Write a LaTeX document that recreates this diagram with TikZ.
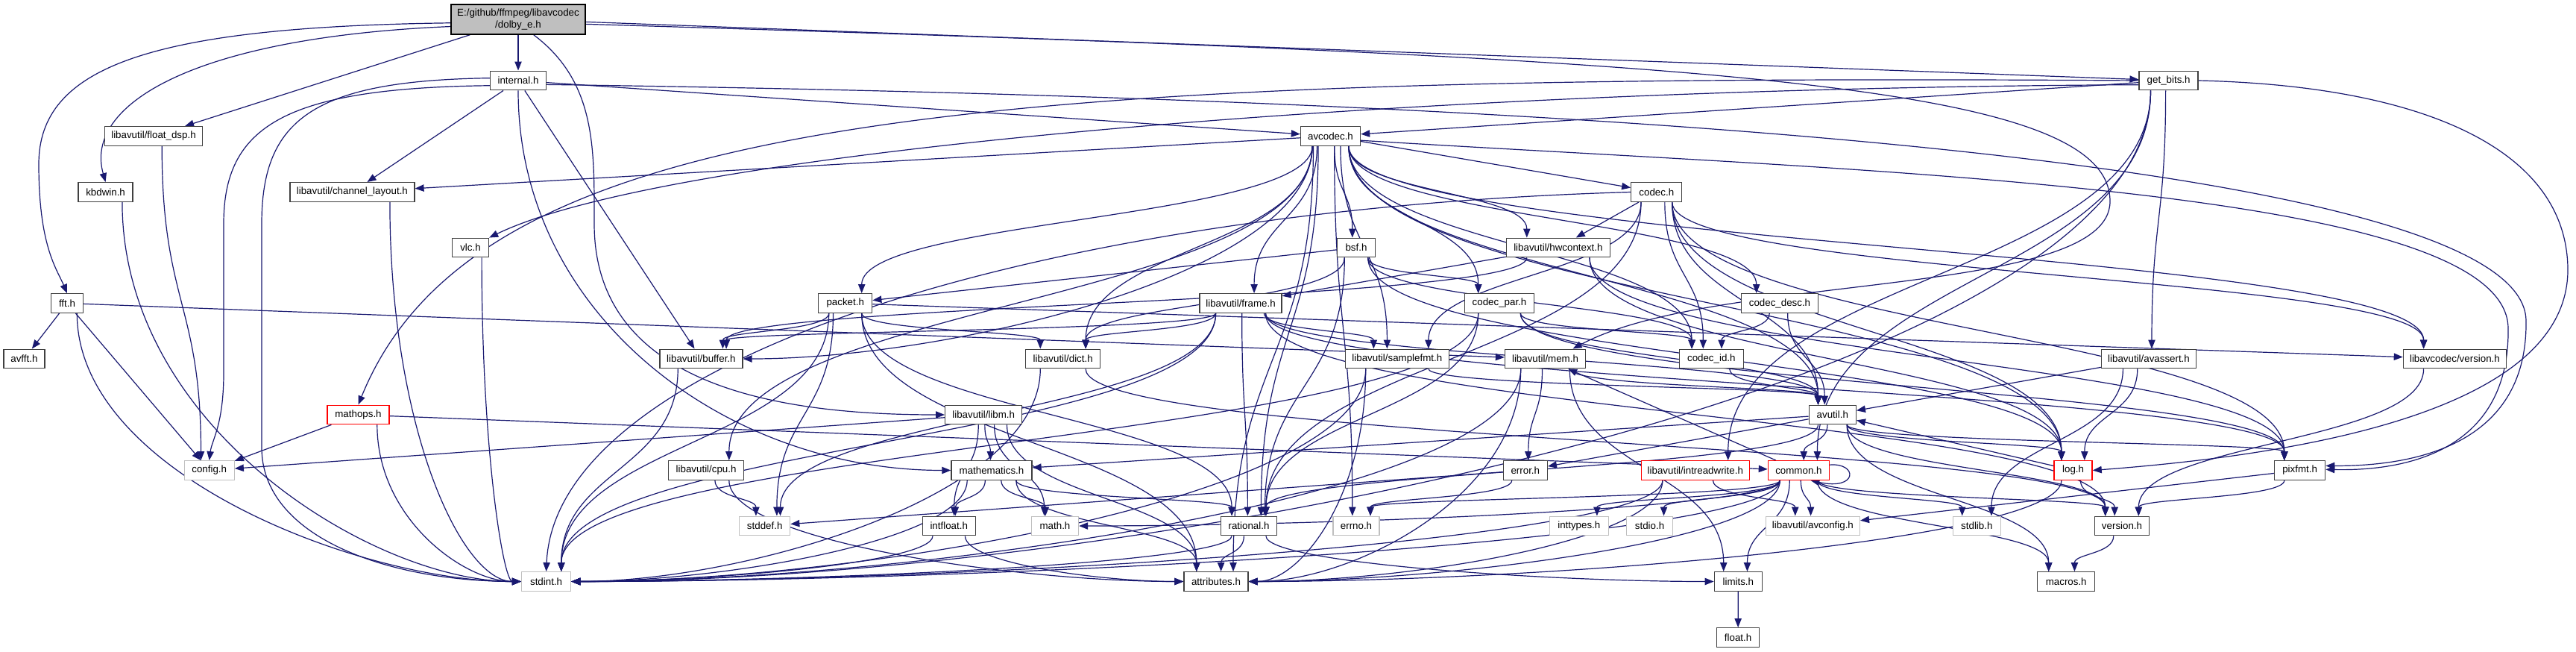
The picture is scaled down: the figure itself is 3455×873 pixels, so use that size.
\documentclass[tikz,border=0pt]{standalone}
\usepackage{fontspec}
\setmainfont{Liberation Sans}
\usetikzlibrary{arrows.meta,calc}
\definecolor{navyline}{RGB}{25,25,112}
\definecolor{gdark}{RGB}{64,64,64}
\definecolor{glight}{RGB}{191,191,191}
\pgfdeclarelayer{bgl}
\pgfdeclarelayer{edl}
\pgfsetlayers{bgl,edl,main}
\tikzset{
  hbase/.style={rectangle, line width=1bp, fill=white, inner sep=0pt, minimum height=19.2bp,
    font=\fontsize{10bp}{11.5bp}\selectfont, text=black},
  nbox/.style={hbase, draw=gdark},
  xbox/.style={hbase, draw=glight},
  rbox/.style={hbase, draw=red},
  rootbox/.style={hbase, draw=black, fill=glight, minimum height=30bp, align=center},
  conn/.style={draw=navyline, line width=0.9bp, -{Triangle[length=9bp,width=7bp]}},
}
% downward S-curve, bottom -> top
\newcommand\eD[3][]{%
  \draw[conn,#1] let \p1=(#2.center), \p2=(#3.center), \p3=(#2.south east), \p4=(#3.north east),
    \n1={\x2-\x1},
    \n2={max(min(0.15*(\n1),0.6*(\x3-\x1)),-0.6*(\x3-\x1))},
    \n3={max(min(-0.15*(\n1),0.6*(\x4-\x2)),-0.6*(\x4-\x2))},
    \n4={0.5*(\y3-\y4)}
  in ({\x1+(\n2)},{\y3}) .. controls +(0pt,{-(\n4)}) and +(0pt,{\n4}) .. ({\x2+(\n3)},{\y4});}
% enter the target from its right side
\newcommand\eR[3][]{%
  \draw[conn,#1] let \p1=(#2.center), \p2=(#3.east), \p3=(#2.south east),
    \n1={\x1-\x2}, \n2={0.6*(\x3-\x1)}, \n4={0.6*(\y3-\y2)}, \n5={0.35*(\n1)}
  in ({\x1-(\n2)},{\y3}) .. controls +(0pt,{-(\n4)}) and +({\n5},0pt) .. (\p2);}
% enter the target from its left side
\newcommand\eL[3][]{%
  \draw[conn,#1] let \p1=(#2.center), \p2=(#3.west), \p3=(#2.south east),
    \n1={\x2-\x1}, \n2={0.6*(\x3-\x1)}, \n4={0.6*(\y3-\y2)}, \n5={0.35*(\n1)}
  in ({\x1+(\n2)},{\y3}) .. controls +(0pt,{-(\n4)}) and +({-(\n5)},0pt) .. (\p2);}
% straight
\newcommand\eS[3][]{\draw[conn,#1] (#2) -- (#3);}
\begin{document}
\begin{tikzpicture}[x=0.75bp,y=-0.75bp]
\begin{pgfonlayer}{bgl}
\fill[white] (0,0) rectangle (3455,873);
\end{pgfonlayer}
\useasboundingbox (0,0) rectangle (3455,873);

\node[rootbox, minimum width=135bp] (dolby) at (695,26) {E:/github/ffmpeg/libavcodec\\/dolby\_e.h};
\node[nbox, minimum width=56.25bp] (internal) at (695,108) {internal.h};
\node[nbox, minimum width=59.25bp] (getbits) at (2908.6,108) {get\_bits.h};
\node[nbox, minimum width=98.25bp] (floatdsp) at (206,182.5) {libavutil/float\_dsp.h};
\node[nbox, minimum width=60bp] (avcodec) at (1784.5,182.5) {avcodec.h};
\node[nbox, minimum width=54.75bp] (kbdwin) at (141.6,257.5) {kbdwin.h};
\node[nbox, minimum width=125.25bp] (chlayout) at (472.4,257.5) {libavutil/channel\_layout.h};
\node[nbox, minimum width=51bp] (codec) at (2221.8,257.5) {codec.h};
\node[nbox, minimum width=36.75bp] (vlc) at (631,332) {vlc.h};
\node[nbox, minimum width=38.25bp] (bsf) at (1819,332) {bsf.h};
\node[nbox, minimum width=104.25bp] (hwctx) at (2089.9,332) {libavutil/hwcontext.h};
\node[nbox, minimum width=32.25bp] (fft) at (90,406.5) {fft.h};
\node[nbox, minimum width=54bp] (packet) at (1133.7,406.5) {packet.h};
\node[nbox, minimum width=82.5bp] (frame) at (1664,406.5) {libavutil/frame.h};
\node[nbox, minimum width=69.75bp] (codecpar) at (2011,406.5) {codec\_par.h};
\node[nbox, minimum width=77.25bp] (codecdesc) at (2387,406.5) {codec\_desc.h};
\node[nbox, minimum width=41.25bp] (avfft) at (32.4,481) {avfft.h};
\node[nbox, minimum width=83.25bp] (buffer) at (940.4,481) {libavutil/buffer.h};
\node[nbox, minimum width=75bp] (dict) at (1425.7,481) {libavutil/dict.h};
\node[nbox, minimum width=104.25bp] (samplefmt) at (1873.8,481) {libavutil/samplefmt.h};
\node[nbox, minimum width=81bp] (mem) at (2072.5,481) {libavutil/mem.h};
\node[nbox, minimum width=64.5bp] (codecid) at (2295.3,481) {codec\_id.h};
\node[nbox, minimum width=95.25bp] (avassert) at (2882,481) {libavutil/avassert.h};
\node[nbox, minimum width=103.5bp] (lcversion) at (3292.4,481) {libavcodec/version.h};
\node[rbox, minimum width=62.25bp] (mathops) at (480.5,556) {mathops.h};
\node[nbox, minimum width=77.25bp] (libm) at (1319.2,556) {libavutil/libm.h};
\node[nbox, minimum width=47.25bp] (avutil) at (2457.8,556) {avutil.h};
\node[xbox, minimum width=50.25bp] (config) at (280.7,630.5) {config.h};
\node[nbox, minimum width=75.75bp] (cpu) at (947.1,630.5) {libavutil/cpu.h};
\node[nbox, minimum width=81bp] (mathem) at (1330,630.5) {mathematics.h};
\node[nbox, minimum width=44.25bp] (errorh) at (2045.8,630.5) {error.h};
\node[rbox, minimum width=108.75bp] (intrw) at (2273.8,630.5) {libavutil/intreadwrite.h};
\node[rbox, minimum width=61.5bp] (common) at (2412.4,630.5) {common.h};
\node[rbox, minimum width=38.25bp] (logh) at (2780.6,630.5) {log.h};
\node[nbox, minimum width=51bp] (pixfmt) at (3084.6,630.5) {pixfmt.h};
\node[xbox, minimum width=51bp] (stddef) at (1025.7,705) {stddef.h};
\node[nbox, minimum width=53.25bp] (intfloat) at (1272.7,705) {intfloat.h};
\node[xbox, minimum width=47.25bp] (mathh) at (1415,705) {math.h};
\node[nbox, minimum width=56.25bp] (rational) at (1675,705) {rational.h};
\node[xbox, minimum width=46.5bp] (errno) at (1819,705) {errno.h};
\node[xbox, minimum width=59.25bp] (inttypes) at (2117.8,705) {inttypes.h};
\node[xbox, minimum width=46.5bp] (stdio) at (2212.5,705) {stdio.h};
\node[xbox, minimum width=94.5bp] (avconfig) at (2431.4,705) {libavutil/avconfig.h};
\node[xbox, minimum width=48bp] (stdlib) at (2651.3,705) {stdlib.h};
\node[nbox, minimum width=54.75bp] (version) at (2846,705) {version.h};
\node[xbox, minimum width=49.5bp] (stdint) at (732.6,779.5) {stdint.h};
\node[nbox, minimum width=64.5bp] (attrib) at (1631,779.5) {attributes.h};
\node[nbox, minimum width=48bp] (limitsh) at (2331.3,779.5) {limits.h};
\node[nbox, minimum width=57.75bp] (macros) at (2771.2,779.5) {macros.h};
\node[nbox, minimum width=42.75bp] (floath) at (2331.1,854.5) {float.h};

\begin{pgfonlayer}{edl}
% root
\draw[conn] (dolby.183) .. controls (200,36) and (52,90) .. (52,220) .. controls (52,330) and (76,360) .. (fft.north);
\draw[conn] (dolby.186) .. controls (260,50) and (112,140) .. (kbdwin.north);
\eS{dolby}{floatdsp}
\eS{dolby}{internal}
\eS{dolby}{getbits}
\draw[conn] (dolby.-4) .. controls (2300,78) and (2830,110) .. (2830,270) .. controls (2830,400) and (2300,365) .. (mem.20);
\draw[conn] (dolby.-45) .. controls (800,110) and (797,200) .. (797,300) .. controls (797,520) and (1050,556) .. (libm.west);
% internal.h
\eS{internal}{buffer}
\eS{internal}{chlayout}
\draw[conn] (internal) to[out=-90,in=180] (mathem);
\draw[conn] (internal.-8) .. controls (2300,135) and (3386,230) .. (3388,430) .. controls (3390,590) and (3250,625) .. (pixfmt.10);
\eS{internal}{avcodec}
\draw[conn] (internal.190) .. controls (380,118) and (300,170) .. (300,300) -- (300,500) .. controls (300,570) and (284,590) .. (config.north);
\draw[conn] (internal.175) .. controls (420,108) and (351,160) .. (351,300) -- (351,600) .. controls (351,720) and (520,779) .. (stdint.west);
% get_bits.h
\eR{getbits}{stdint}
\eD{getbits}{common}
\eD{getbits}{intrw}
\eD{getbits}{avassert}
\eS{getbits}{avcodec}
\draw[conn] (getbits.east) .. controls (3250,115) and (3442,200) .. (3444,360) .. controls (3446,560) and (3050,612) .. (logh.east);
\draw[conn] (getbits.west) .. controls (1300,98) and (640,150) .. (mathops.north);
\draw[conn] (getbits.188) .. controls (1900,118) and (900,200) .. (vlc.north east);
% avcodec.h
\eD{avcodec}{errno}
\eD{avcodec}{samplefmt}
\eD{avcodec}{attrib}
\eD{avcodec}{avutil}
\eR{avcodec}{buffer}
\eD{avcodec}{cpu}
\eS{avcodec}{chlayout}
\eD{avcodec}{dict}
\eD{avcodec}{frame}
\eD{avcodec}{hwctx}
\eD{avcodec}{logh}
\draw[conn] (avcodec.-8) .. controls (2500,230) and (3362,250) .. (3364,440) .. controls (3366,590) and (3250,632) .. (pixfmt.2);
\eD{avcodec}{rational}
\eD{avcodec}{bsf}
\eS{avcodec}{codec}
\eD{avcodec}{codecdesc}
\eD{avcodec}{codecpar}
\eD{avcodec}{codecid}
\eD{avcodec}{packet}
\eD{avcodec}{lcversion}
% codec.h
\draw[conn] (codec.west) .. controls (1400,280) and (745,480) .. (stdint.north);
\eD{codec}{avutil}
\eS{codec}{hwctx}
\eD{codec}{logh}
\eD{codec}{pixfmt}
\eD{codec}{rational}
\eD{codec}{samplefmt}
\eD{codec}{codecid}
\eD{codec}{lcversion}
% bsf.h
\eD{bsf}{dict}
\eD{bsf}{logh}
\eD{bsf}{rational}
\eD{bsf}{codecid}
\eD{bsf}{codecpar}
\eS{bsf}{packet}
% hwcontext.h
\eD{hwctx}{buffer}
\eS{hwctx}{frame}
\eD{hwctx}{logh}
\eD{hwctx}{pixfmt}
% packet.h
\eD{packet}{stddef}
\eD{packet}{stdint}
\eD{packet}{attrib}
\eD{packet}{buffer}
\eD{packet}{dict}
\eD{packet}{rational}
\eS{packet}{lcversion}
% frame.h
\eD{frame}{stddef}
\eD{frame}{stdint}
\eD{frame}{avutil}
\eD{frame}{buffer}
\eD{frame}{dict}
\eD{frame}{rational}
\eD{frame}{samplefmt}
\eD{frame}{pixfmt}
\eD{frame}{version}
% codec_par.h, codec_desc.h
\eD{codecpar}{stdint}
\eD{codecpar}{avutil}
\eD{codecpar}{rational}
\eD{codecpar}{pixfmt}
\eD{codecpar}{codecid}
\eD{codecdesc}{avutil}
\eD{codecdesc}{codecid}
% fft.h and others on the left
\eS{fft}{config}
\eL{fft}{stdint}
\eS{fft}{mem}
\eS{fft}{avfft}
\eL{kbdwin}{stdint}
\eD{floatdsp}{config}
\eL{vlc}{stdint}
\eL{chlayout}{stdint}
\eS{mathops}{config}
\eS{mathops}{common}
\eL{mathops}{stdint}
\eD{buffer}{stdint}
\eR{dict}{stdint}
\eD{dict}{version}
\eR{samplefmt}{stdint}
\eD{samplefmt}{avutil}
\eR{samplefmt}{attrib}
\eD{mem}{limitsh}
\eR{mem}{stdint}
\eR{mem}{attrib}
\eD{mem}{errorh}
\eD{mem}{avutil}
\eD{codecid}{avutil}
\eD{avassert}{stdlib}
\eS{avassert}{avutil}
\eD{avassert}{logh}
\eD{lcversion}{version}
\eD{libm}{mathh}
\eS{libm}{config}
\eD{libm}{attrib}
\eD{libm}{intfloat}
\eD{libm}{mathem}
% avutil.h
\eD{avutil}{common}
\eS{avutil}{errorh}
\eD{avutil}{rational}
\eD{avutil}{version}
\eD{avutil}{macros}
\eS{avutil}{mathem}
\eD{avutil}{logh}
\eD{avutil}{pixfmt}
% row 8
\eD{cpu}{stddef}
\eL{cpu}{attrib}
\eR{mathem}{stdint}
\eD{mathem}{mathh}
\eD{mathem}{attrib}
\eD{mathem}{rational}
\eD{mathem}{intfloat}
\eD{errorh}{errno}
\eS{errorh}{stddef}
\eR{intrw}{stdint}
\eD{intrw}{avconfig}
\eR{intrw}{attrib}
\eD{common}{errno}
\eD{common}{inttypes}
\eD{common}{limitsh}
\eR{common}{mathh}
\eR{common}{stdint}
\eD{common}{stdio}
\eD{common}{stdlib}
\eR{common}{attrib}
\eD{common}{macros}
\eD{common}{version}
\eD{common}{avconfig}
\eS{common}{mem}
\draw[conn] (common.10) .. controls (2492,620) and (2492,658) .. (common.-40);
\eS{logh}{avutil}
\eR{logh}{attrib}
\eD{logh}{version}
\eS{pixfmt}{avconfig}
\eD{pixfmt}{version}
% row 9 and below
\eR{intfloat}{stdint}
\eL{intfloat}{attrib}
\eR{rational}{stdint}
\eL{rational}{limitsh}
\eD{rational}{attrib}
\eD{version}{macros}
\eD{limitsh}{floath}
\end{pgfonlayer}
\end{tikzpicture}
\end{document}
